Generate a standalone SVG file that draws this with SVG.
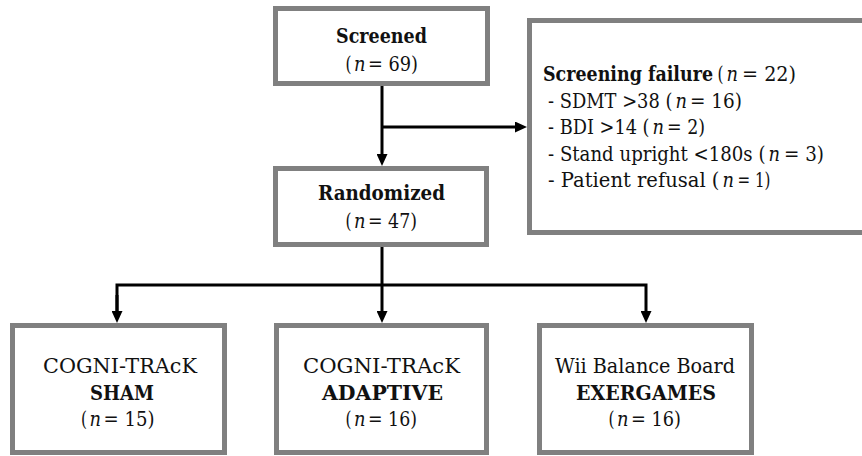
<svg xmlns="http://www.w3.org/2000/svg" width="862" height="456" viewBox="0 0 862 456">
  <style>
    .box { fill: #ffffff; stroke: #808080; stroke-width: 5; }
    .t { font-family: 'DejaVu Serif', 'Liberation Serif', serif; font-size: 21px; fill: #111111; }
    .c { text-anchor: middle; }
    .e { text-anchor: end; }
    .b { font-weight: bold; }
    .i { font-style: italic; }
    .conn { fill: none; stroke: #000000; stroke-width: 3; }
  </style>
  <defs>
    <marker id="arrow" viewBox="0 0 12 11" refX="2" refY="5.5" markerWidth="12" markerHeight="11" markerUnits="userSpaceOnUse" orient="auto">
      <path d="M0,0 L12,5.5 L0,11 z" fill="#000000"/>
    </marker>
  </defs>
  <rect width="862" height="456" fill="#ffffff"/>

  <g id="connectors">
    <path class="conn" d="M382,86 L382,156" marker-end="url(#arrow)"/>
    <path class="conn" d="M382,127 L517,127" marker-end="url(#arrow)"/>
    <path class="conn" d="M382,247 L382,313" marker-end="url(#arrow)"/>
    <path class="conn" d="M117,313 L117,285 L646,285 L646,313" marker-end="url(#arrow)"/>
    <path class="conn" d="M117,295 L117,313" marker-end="url(#arrow)"/>
  </g>

  <g id="screened">
    <rect class="box" x="275.5" y="8.5" width="212" height="75"/>
    <text class="t c b" x="381.5" y="43" textLength="91" lengthAdjust="spacingAndGlyphs">Screened</text>
    <text class="t e" x="351.5" y="71" textLength="6" lengthAdjust="spacingAndGlyphs">(</text>
    <text class="t i" x="354" y="71" textLength="11.5" lengthAdjust="spacingAndGlyphs">n</text>
    <text class="t" x="368" y="71" textLength="50" lengthAdjust="spacingAndGlyphs">= 69)</text>
  </g>

  <g id="screening-failure">
    <rect class="box" x="529.5" y="20.5" width="340" height="212"/>
    <text class="t e b" x="713" y="81" textLength="170" lengthAdjust="spacingAndGlyphs">Screening failure</text>
    <text class="t e" x="723.5" y="81" textLength="6" lengthAdjust="spacingAndGlyphs">(</text>
    <text class="t i" x="726.5" y="81" textLength="11.5" lengthAdjust="spacingAndGlyphs">n</text>
    <text class="t" x="742" y="81" textLength="54" lengthAdjust="spacingAndGlyphs">= 22)</text>

    <text class="t e" x="672.5" y="107.5" textLength="124.5" lengthAdjust="spacingAndGlyphs">- SDMT &gt;38 (</text>
    <text class="t i" x="675.5" y="107.5" textLength="11.5" lengthAdjust="spacingAndGlyphs">n</text>
    <text class="t" x="690" y="107.5" textLength="52" lengthAdjust="spacingAndGlyphs">= 16)</text>

    <text class="t e" x="649.5" y="134" textLength="101.5" lengthAdjust="spacingAndGlyphs">- BDI &gt;14 (</text>
    <text class="t i" x="652.5" y="134" textLength="11.5" lengthAdjust="spacingAndGlyphs">n</text>
    <text class="t" x="667" y="134" textLength="38" lengthAdjust="spacingAndGlyphs">= 2)</text>

    <text class="t e" x="765.5" y="160.5" textLength="217.5" lengthAdjust="spacingAndGlyphs">- Stand upright &lt;180s (</text>
    <text class="t i" x="768.5" y="160.5" textLength="11.5" lengthAdjust="spacingAndGlyphs">n</text>
    <text class="t" x="784" y="160.5" textLength="40" lengthAdjust="spacingAndGlyphs">= 3)</text>

    <text class="t e" x="719.5" y="187" textLength="171.5" lengthAdjust="spacingAndGlyphs">- Patient refusal (</text>
    <text class="t i" x="722.5" y="187" textLength="11.5" lengthAdjust="spacingAndGlyphs">n</text>
    <text class="t" x="737.5" y="187" textLength="33" lengthAdjust="spacingAndGlyphs">= 1)</text>
  </g>

  <g id="randomized">
    <rect class="box" x="275.5" y="168.5" width="211" height="76"/>
    <text class="t c b" x="381.5" y="200" textLength="127" lengthAdjust="spacingAndGlyphs">Randomized</text>
    <text class="t e" x="351.5" y="228" textLength="6" lengthAdjust="spacingAndGlyphs">(</text>
    <text class="t i" x="354" y="228" textLength="11.5" lengthAdjust="spacingAndGlyphs">n</text>
    <text class="t" x="368" y="228" textLength="49" lengthAdjust="spacingAndGlyphs">= 47)</text>
  </g>

  <g id="sham">
    <rect class="box" x="12.5" y="325.5" width="212" height="127"/>
    <text class="t c" x="120" y="373" textLength="154" lengthAdjust="spacingAndGlyphs">COGNI-TRAcK</text>
    <text class="t c b" x="122" y="399.5" textLength="64" lengthAdjust="spacingAndGlyphs">SHAM</text>
    <text class="t e" x="87" y="426" textLength="6" lengthAdjust="spacingAndGlyphs">(</text>
    <text class="t i" x="89.5" y="426" textLength="11.5" lengthAdjust="spacingAndGlyphs">n</text>
    <text class="t" x="103.5" y="426" textLength="51" lengthAdjust="spacingAndGlyphs">= 15)</text>
  </g>

  <g id="adaptive">
    <rect class="box" x="276.5" y="325.5" width="210" height="127"/>
    <text class="t c" x="381.5" y="373" textLength="157" lengthAdjust="spacingAndGlyphs">COGNI-TRAcK</text>
    <text class="t c b" x="382.5" y="399.5" textLength="121" lengthAdjust="spacingAndGlyphs">ADAPTIVE</text>
    <text class="t e" x="351.5" y="426" textLength="6" lengthAdjust="spacingAndGlyphs">(</text>
    <text class="t i" x="354" y="426" textLength="11.5" lengthAdjust="spacingAndGlyphs">n</text>
    <text class="t" x="368" y="426" textLength="49" lengthAdjust="spacingAndGlyphs">= 16)</text>
  </g>

  <g id="exergames">
    <rect class="box" x="539.5" y="325.5" width="212" height="127"/>
    <text class="t c" x="645" y="373" textLength="180" lengthAdjust="spacingAndGlyphs">Wii Balance Board</text>
    <text class="t c b" x="646" y="399.5" textLength="140" lengthAdjust="spacingAndGlyphs">EXERGAMES</text>
    <text class="t e" x="614.5" y="426" textLength="6" lengthAdjust="spacingAndGlyphs">(</text>
    <text class="t i" x="617" y="426" textLength="11.5" lengthAdjust="spacingAndGlyphs">n</text>
    <text class="t" x="631" y="426" textLength="50" lengthAdjust="spacingAndGlyphs">= 16)</text>
  </g>
</svg>
